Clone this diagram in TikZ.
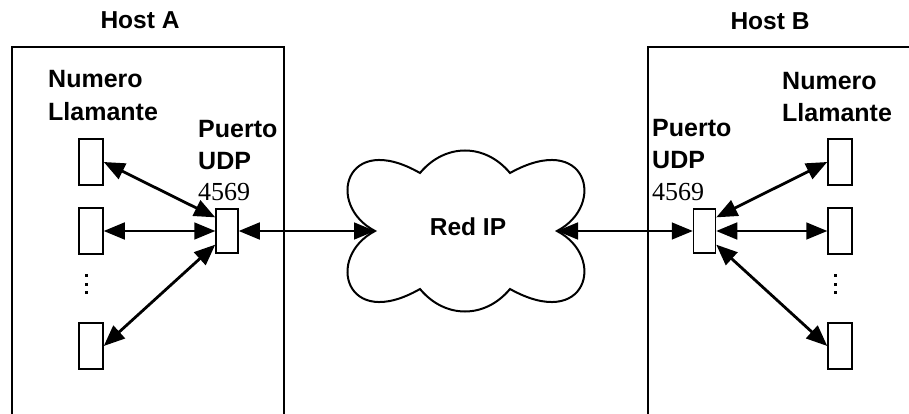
\documentclass[tikz,border=0pt]{standalone}
\usepackage{fontspec}
\setmainfont{Liberation Sans}
\newfontfamily\digitfont{Liberation Serif}
\usetikzlibrary{arrows.meta,calc}

\begin{document}
\begin{tikzpicture}[x=1pt,y=-1pt,
  lbl/.style={font=\fontsize{25}{25}\selectfont\bfseries, inner sep=0pt, anchor=base west},
  numlbl/.style={font=\fontsize{26}{26}\selectfont\digitfont, inner sep=0pt, anchor=base west},
  hostlbl/.style={font=\fontsize{24.5}{24.5}\selectfont\bfseries, inner sep=0pt, anchor=base},
  slotbox/.style={draw, line width=1.5pt, minimum width=24pt, minimum height=46pt, inner sep=0pt},
  portbox/.style={draw, line width=1.5pt, minimum width=22pt, minimum height=44pt, inner sep=0pt},
  link/.style={line width=1.6pt, {Triangle[length=21pt,width=17pt]}-{Triangle[length=21pt,width=17pt]}},
  diag/.style={link, line width=2.8pt},
  hostframe/.style={line width=1.8pt},
  dot/.style={fill=black, minimum size=3pt, inner sep=0pt}
]
\useasboundingbox (0,0) rectangle (909,414);

% host frames (open at the bottom)
\draw[hostframe] (12,414) -- (12,47) -- (284,47) -- (284,414);
\draw[hostframe] (648,414) -- (648,47) -- (909,47);

\node[hostlbl] (hostA) at (140,29) {Host A};
\node[hostlbl] (hostB) at (770,30) {Host B};

% ---- Host A ----
\node[lbl] (numA1) at (48,88) {Numero};
\node[lbl] (numA2) at (48,121) {Llamante};
\node[lbl] (puA1) at (198,138) {Puerto};
\node[lbl] (puA2) at (198,169) {UDP};
\node[numlbl] (puA3) at (198,200) {4569};

\node[slotbox] (a1) at (91,162) {};
\node[slotbox] (a2) at (91,231) {};
\node[slotbox] (a3) at (91,346) {};
\node[portbox] (pA) at (227,231) {};
\node[dot] (ad1) at (86,275) {};
\node[dot] (ad2) at (86,284) {};
\node[dot] (ad3) at (86,292) {};

% ---- Host B ----
\node[lbl] (numB1) at (782,90) {Numero};
\node[lbl] (numB2) at (782,122) {Llamante};
\node[lbl] (puB1) at (652,137) {Puerto};
\node[lbl] (puB2) at (652,168) {UDP};
\node[numlbl] (puB3) at (652,200) {4569};

\node[slotbox] (b1) at (840,162) {};
\node[slotbox] (b2) at (840,231) {};
\node[slotbox] (b3) at (840,346) {};
\node[portbox] (pB) at (704.5,231) {};
\node[dot] (bd1) at (835,275) {};
\node[dot] (bd2) at (835,284) {};
\node[dot] (bd3) at (835,292) {};

% ---- cloud ----
\draw[line width=2pt] (375,231) .. controls (325,205) and (345,130) .. (420,173)
  .. controls (445,143) and (485,143) .. (510,173)
  .. controls (587,130) and (607,205) .. (557,231)
  .. controls (607,257) and (587,332) .. (510,289)
  .. controls (485,319) and (445,319) .. (420,289)
  .. controls (345,332) and (325,257) .. (375,231) -- cycle;
\coordinate (cloudL) at (375,231);
\coordinate (cloudR) at (557,231);
\node[hostlbl] (red) at (468,235) {Red IP};

% ---- connectors ----
\coordinate (pAup) at ($(pA.north west)!0.2!(pA.south west)$);
\coordinate (pAdn) at ($(pA.north west)!0.8!(pA.south west)$);
\coordinate (pBup) at ($(pB.north east)!0.2!(pB.south east)$);
\coordinate (pBdn) at ($(pB.north east)!0.8!(pB.south east)$);

\draw[diag] (a1.east) -- (pAup);
\draw[link] (a2.east) -- (pA.west);
\draw[diag] (a3.east) -- (pAdn);
\draw[link] (pA.east) -- (cloudL);

\draw[diag] (b1.west) -- (pBup);
\draw[link] (b2.west) -- (pB.east);
\draw[diag] (b3.west) -- (pBdn);
\draw[link] (pB.west) -- (cloudR);
\end{tikzpicture}
\end{document}
